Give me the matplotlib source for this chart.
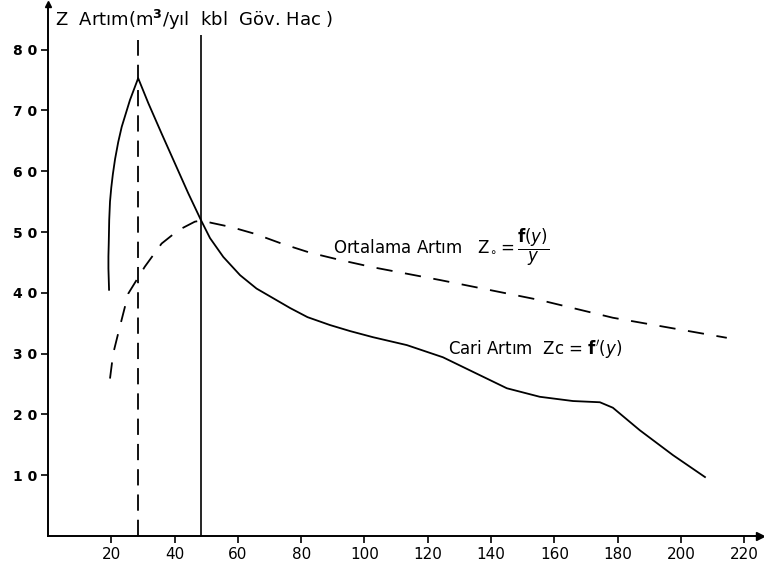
import matplotlib
matplotlib.use("Agg")
import matplotlib.pyplot as plt

plt.rcParams['font.family'] = ['DejaVu Sans']
plt.rcParams['mathtext.fontset'] = 'dejavusans'

# Cari artim (current increment)
cari_x = [19.3, 19.1, 19.1, 19.2, 19.35, 19.6, 20.0, 20.5, 21.2, 22.2, 23.3,
          25.9, 28.5, 31.7, 35.9, 40.1, 44.3, 48.3, 51.2, 55.4, 60.7,
          65.9, 71.2, 76.5, 82.0, 89.1, 95.5, 102.7, 113.4, 124.8, 134.3,
          145.0, 155.4, 165.9, 174.4, 178.5, 187.0, 197.5, 207.6]
cari_y = [40.5, 44.0, 46.0, 48.1, 52.0, 55.0, 57.3, 59.5, 62.0, 64.8, 67.3,
          71.7, 75.3, 71.2, 66.2, 61.3, 56.4, 52.0, 49.0, 45.9, 42.9,
          40.7, 39.1, 37.5, 36.0, 34.7, 33.7, 32.7, 31.4, 29.4, 27.0,
          24.3, 22.9, 22.2, 22.0, 21.1, 17.4, 13.3, 9.7]

# Ortalama artim (mean increment)
ort_x = [19.6, 20.6, 22.7, 25.4, 28.0, 30.6, 35.9, 41.2, 46.4, 48.5,
         51.7, 58.0, 65.4, 73.8, 82.8, 92.3, 102.7, 123.9, 155.5, 178.5,
         214.5]
ort_y = [25.9, 30.0, 34.4, 39.9, 42.1, 44.3, 48.1, 50.3, 51.7, 51.9,
         51.5, 50.8, 49.7, 48.1, 46.6, 45.4, 44.2, 42.1, 38.8, 35.9,
         32.6]

x_ticks = [20, 40, 60, 80, 100, 120, 140, 160, 180, 200, 220]
y_ticks = [10, 20, 30, 40, 50, 60, 70, 80]
y_labels = ["1 0", "2 0", "3 0", "4 0", "5 0", "6 0", "7 0", "8 0"]

peak_x, peak_top = 28.5, 81.6
cross_x, cross_top = 48.5, 82.4

fig = plt.figure(figsize=(7.64, 5.65), dpi=100)
ax = fig.add_axes([0.0628, 0.0513, 0.932, 0.9416])

ax.plot(cari_x, cari_y, color='black', lw=1.3)
ax.plot(ort_x, ort_y, color='black', lw=1.3, dashes=(9, 7))

ax.vlines(peak_x, 0, peak_top, color='black', lw=1.3, linestyles=(0, (9, 5)))
ax.vlines(cross_x, 0, cross_top, color='black', lw=1.2)

ax.set_xlim(0, 225)
ax.set_ylim(0, 87.5)
ax.set_xticks(x_ticks)
ax.set_xticklabels([str(v) for v in x_ticks], fontsize=11)
ax.set_yticks(y_ticks)
ax.set_yticklabels(y_labels, fontsize=10, fontweight='bold')
ax.tick_params(axis='both', direction='out', length=5, width=1.2, pad=3)

for s in ['top', 'right']:
    ax.spines[s].set_visible(False)
for s in ['left', 'bottom']:
    ax.spines[s].set_linewidth(1.4)

# axis arrows
ax.plot(1, 0, '>k', ms=6, transform=ax.transAxes, clip_on=False)
ax.plot(0, 1, '^k', ms=5, transform=ax.transAxes, clip_on=False)

ax.text(2.2, 84.9, "Z  Artım(m$^{\\mathbf{3}}$/yıl  kbl  Göv. Hac )",
        fontsize=13, va='center', ha='left')
ax.text(90, 47.5, "Ortalama Artım   $\\mathrm{Z}_{\\circ}=\\dfrac{\\mathbf{f}(y)}{y}$",
        fontsize=12, va='center', ha='left')
ax.text(126.4, 30.6, "Cari Artım  Zc = $\\mathbf{f}'(y)$",
        fontsize=12, va='center', ha='left')

fig.savefig("out.png", dpi=100)
